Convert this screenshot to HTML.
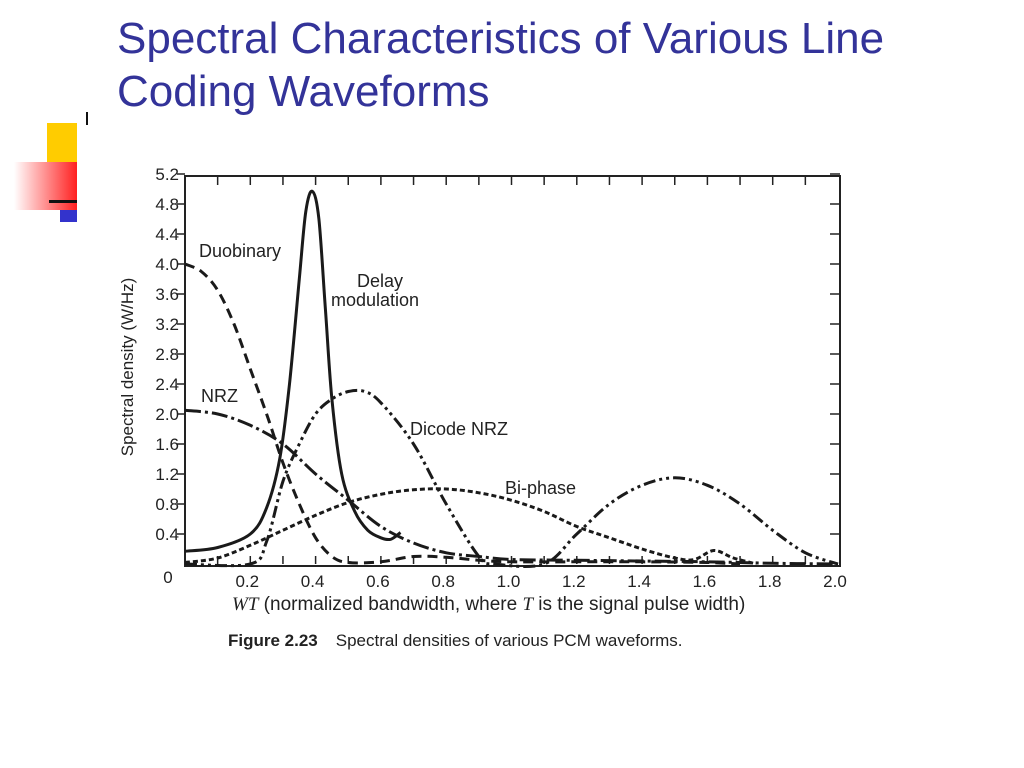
<!DOCTYPE html>
<html><head><meta charset="utf-8"><style>
body{margin:0;width:1024px;height:768px;background:#fff;position:relative;overflow:hidden;font-family:"Liberation Sans",sans-serif}
.t{position:absolute;left:117px;color:#333399;font-size:44px;line-height:53px}
</style></head><body>
<div class="t" style="top:12px">Spectral Characteristics of Various Line<br>Coding Waveforms</div>
<div style="position:absolute;left:47px;top:123px;width:30px;height:40px;background:#ffcc00"></div>
<div style="position:absolute;left:14px;top:162px;width:63px;height:48px;background:linear-gradient(90deg,#fff,#ff2020)"></div>
<div style="position:absolute;left:49px;top:200px;width:28px;height:3px;background:#111"></div>
<div style="position:absolute;left:60px;top:210px;width:17px;height:12px;background:#3333cc"></div>
<div style="position:absolute;left:86px;top:112px;width:2px;height:13px;background:#111"></div>
<svg id="c" width="1024" height="768" style="position:absolute;left:0;top:0" font-family="Liberation Sans, sans-serif"></svg>
<script>
const yTicks=[0.4,0.8,1.2,1.6,2.0,2.4,2.8,3.2,3.6,4.0,4.4,4.8,5.2];
const xTicks=[0.2,0.4,0.6,0.8,1.0,1.2,1.4,1.6,1.8,2.0];
const duoX=[0,0.05,0.1,0.15,0.2,0.25,0.3,0.35,0.4,0.45,0.5,0.6,0.7,0.8,0.9,1.0,1.2,1.4,1.6,1.7];
const duoY=[4.0,3.9,3.65,3.2,2.6,2.0,1.35,0.8,0.35,0.1,0.02,0.03,0.1,0.09,0.05,0.03,0.03,0.03,0.02,0];
const nrzX=[0,0.1,0.2,0.3,0.4,0.5,0.6,0.7,0.8,0.9,1.0,1.2,1.4,1.6,1.8,2.0];
const nrzY=[2.05,2.0,1.85,1.6,1.2,0.85,0.5,0.28,0.15,0.1,0.06,0.05,0.04,0.03,0.01,0];
const dmX=[0,0.1,0.2,0.25,0.29,0.32,0.35,0.37,0.39,0.41,0.43,0.45,0.48,0.52,0.56,0.6,0.63,0.66];
const dmY=[0.17,0.22,0.4,0.75,1.4,2.4,3.8,4.7,4.97,4.6,3.4,2.2,1.2,0.7,0.45,0.35,0.33,0.42];
const dcX=[0,0.2,0.25,0.3,0.35,0.4,0.45,0.5,0.55,0.6,0.7,0.8,0.9,0.95,1.1,1.2,1.3,1.4,1.5,1.6,1.7,1.8,1.9,2.0];
const dcY=[0,0,0.3,1.1,1.6,2.0,2.2,2.3,2.3,2.15,1.6,0.8,0.1,0,0,0.4,0.8,1.05,1.15,1.05,0.8,0.45,0.15,0];
const bpX=[0,0.1,0.2,0.3,0.4,0.5,0.6,0.7,0.8,0.9,1.0,1.1,1.2,1.3,1.4,1.5,1.56,1.62,1.68,1.75];
const bpY=[0.02,0.08,0.25,0.45,0.65,0.82,0.93,0.99,1.0,0.95,0.85,0.7,0.5,0.35,0.2,0.08,0.06,0.18,0.08,0];
const X0=185,X1=838,Y0=564,SY=75;
const xs=v=>X0+(X1-X0)*v/2, ys=v=>Y0-v*SY;
const svg=document.getElementById('c'),NS='http://www.w3.org/2000/svg';
function mk(t,a,p){const e=document.createElementNS(NS,t);for(const k in a)e.setAttribute(k,a[k]);(p||svg).appendChild(e);return e;}
const fr=mk('rect',{x:X0,y:176,width:X1+2-X0,height:Y0+2-176,fill:'none',stroke:'#222','stroke-width':2});


yTicks.forEach(v=>{
 const l=mk('line',{x1:X0-8,x2:X0,y1:ys(v),y2:ys(v),stroke:'#222','stroke-width':1.5});
 
 
 const r=mk('line',{x1:X1-8,x2:X1+2,y1:ys(v),y2:ys(v),stroke:'#222','stroke-width':1.5});
 
 
 const t=mk('text',{x:X0-6,y:ys(v)+6,'text-anchor':'end','font-size':17,fill:'#222'});t.textContent=v.toFixed(1);
 
 
});
for(let i=1;i<20;i++){const v=i/10;
 const a=mk('line',{x1:xs(v),x2:xs(v),y1:176,y2:185,stroke:'#222','stroke-width':1.5});
 
 
 const b=mk('line',{x1:xs(v),x2:xs(v),y1:Y0-8,y2:Y0,stroke:'#222','stroke-width':1.5});
 
 
}
xTicks.forEach(v=>{const t=mk('text',{x:xs(v)-3,y:587,'text-anchor':'middle','font-size':17,fill:'#222'});t.textContent=v.toFixed(1);
 
 });
const z=mk('text',{x:168,y:583,'text-anchor':'middle','font-size':17,fill:'#222'});z.textContent='0';


function curve(xa,ya,dash,name){
 const P=xa.map((x,i)=>[xs(x),ys(ya[i])]);
 let d='M'+P[0][0].toFixed(1)+','+P[0][1].toFixed(1);
 for(let i=0;i<P.length-1;i++){
  const p0=P[Math.max(0,i-1)],p1=P[i],p2=P[i+1],p3=P[Math.min(P.length-1,i+2)];
  const c1=[p1[0]+(p2[0]-p0[0])/6,p1[1]+(p2[1]-p0[1])/6];
  const c2=[p2[0]-(p3[0]-p1[0])/6,p2[1]-(p3[1]-p1[1])/6];
  d+='C'+c1.map(n=>n.toFixed(1))+' '+c2.map(n=>n.toFixed(1))+' '+p2.map(n=>n.toFixed(1));
 }
 const p=mk('path',{d:d,fill:'none',stroke:'#1a1a1a','stroke-width':3,'stroke-dasharray':dash,'stroke-linejoin':'round'});
 
 
}
curve(duoX,duoY,'10 6','duobinary-curve');
curve(nrzX,nrzY,'16 4 3 4','nrz-curve');
curve(dmX,dmY,'','delay-modulation-curve');
curve(dcX,dcY,'12 4 3 4 3 4','dicode-nrz-curve');
curve(bpX,bpY,'5 3','bi-phase-curve');
function lab(x,y,s,n){const t=mk('text',{x:x,y:y,'font-size':18,fill:'#222'});t.textContent=s;
 
 }
lab(199,257,'Duobinary','label-duobinary');
lab(357,287,'Delay','label-delay');
lab(331,306,'modulation','label-modulation');
lab(201,402,'NRZ','label-nrz');
lab(410,435,'Dicode NRZ','label-dicode-nrz');
lab(505,494,'Bi-phase','label-bi-phase');
const yt=mk('text',{x:0,y:0,'font-size':17,fill:'#222','text-anchor':'middle',transform:'translate(133,367) rotate(-90)'});yt.textContent='Spectral density (W/Hz)';


const xt=mk('text',{x:232,y:610,'font-size':19,fill:'#222'});


xt.innerHTML='<tspan font-family="Liberation Serif, serif" font-style="italic">WT</tspan> (normalized bandwidth, where <tspan font-family="Liberation Serif, serif" font-style="italic">T</tspan> is the signal pulse width)';
const cap=mk('text',{x:228,y:646,'font-size':17,fill:'#222'});


cap.innerHTML='<tspan font-weight="bold">Figure 2.23</tspan><tspan dx="18">Spectral densities of various PCM waveforms.</tspan>';
</script>
</body></html>
